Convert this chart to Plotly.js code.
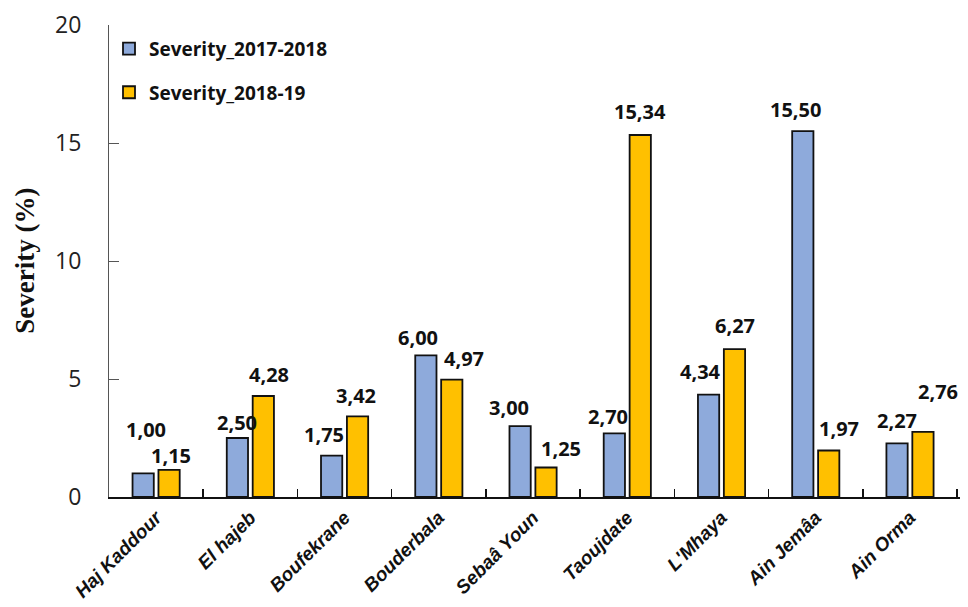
<!DOCTYPE html>
<html>
<head>
<meta charset="utf-8">
<script src="https://cdn.plot.ly/plotly-3.0.1.min.js"></script>
<style>html,body{margin:0;padding:0;background:#fff;}#chart{width:968px;height:607px;}</style>
</head>
<body>
<div id="chart"></div>
<script>
var categories = ["Haj Kaddour", "El hajeb", "Boufekrane", "Bouderbala", "Sebaâ Youn", "Taoujdate", "L'Mhaya", "Ain Jemâa", "Ain Orma"];
var seriesNames = ["Severity_2017-2018", "Severity_2018-19"];
var severity2017 = [1.00, 2.50, 1.75, 6.00, 3.00, 2.70, 4.34, 15.50, 2.27];
var severity2018 = [1.15, 4.28, 3.42, 4.97, 1.25, 15.34, 6.27, 1.97, 2.76];
var yTicks = [0, 5, 10, 15, 20];
var yTitle = 'Severity (%)';

// label placement tuning (pixels), layout only
var blueDx = [3, 0, -8, -8, -11, -6, -8, -7, 0];
var blueDy = [44, 16, 21, 18, 19, 17, 23, 22, 23];
var yellowDx = [2, 6, -2, 12, 15, 0, 0, 10, 15];
var yellowDy = [14, 21, 21, 21, 19, 23, 24, 22, 40];

function fmt(v) { return v.toFixed(2).replace('.', ','); }

var traces = [
  {type: 'bar', name: seriesNames[0], x: categories, y: severity2017, legendgroup: 'a',
   marker: {color: '#8eaadb', line: {color: '#111', width: 1.8}}, hoverinfo: 'none'},
  {type: 'bar', name: seriesNames[1], x: categories, y: severity2018, legendgroup: 'b',
   marker: {color: '#ffc000', line: {color: '#111', width: 1.8}}, hoverinfo: 'none'}
];

var labelFont = {family: 'Open Sans, sans-serif', size: 20, color: '#111', weight: 'bold'};
var annotations = [];
categories.forEach(function (c, i) {
  annotations.push({x: c, y: severity2017[i], xref: 'x', yref: 'y', text: '<b>' + fmt(severity2017[i]) + '</b>',
    showarrow: false, xanchor: 'center', yanchor: 'middle', xshift: -13 + blueDx[i], yshift: blueDy[i], font: labelFont});
  annotations.push({x: c, y: severity2018[i], xref: 'x', yref: 'y', text: '<b>' + fmt(severity2018[i]) + '</b>',
    showarrow: false, xanchor: 'center', yanchor: 'middle', xshift: 13 + yellowDx[i], yshift: yellowDy[i], font: labelFont});
});
// y-axis title (drawn as rotated text so it can sit at the reference's position)
annotations.push({xref: 'paper', yref: 'paper', x: -0.099, y: 0.5, xanchor: 'center', yanchor: 'middle',
  textangle: -90, showarrow: false, text: '<b>' + yTitle + '</b>',
  font: {family: 'Liberation Serif, Times New Roman, serif', size: 27, color: '#111'}});

var layout = {
  width: 968, height: 607,
  margin: {l: 109, r: 8, t: 25, b: 110},
  paper_bgcolor: '#fff', plot_bgcolor: '#fff',
  barmode: 'group', bargap: 0.45, bargroupgap: 0.18,
  showlegend: true,
  legend: {x: 0.0, y: 0.99, xanchor: 'left', yanchor: 'top', bgcolor: 'rgba(0,0,0,0)',
    traceorder: 'grouped', tracegroupgap: 16,
    font: {family: 'Open Sans, sans-serif', size: 19, color: '#111', weight: 'bold'}},
  xaxis: {
    type: 'category', showline: true, linecolor: '#111', linewidth: 2,
    ticks: 'inside', tickson: 'boundaries', ticklen: 8, tickcolor: '#111', tickwidth: 1.5,
    tickangle: -45, showgrid: false, zeroline: false, fixedrange: true,
    tickfont: {family: 'Liberation Sans, Arial, sans-serif', size: 19, color: '#111', weight: 'bold', style: 'italic'}
  },
  yaxis: {
    range: [0, 20], tickvals: yTicks, ticktext: yTicks.map(String),
    showline: true, linecolor: '#555', linewidth: 1,
    ticks: 'inside', ticklen: 10, tickcolor: '#555', tickwidth: 1,
    showgrid: false, zeroline: false, fixedrange: true, ticklabelstandoff: 22,
    tickfont: {family: 'Open Sans, sans-serif', size: 23, color: '#222'}
  },
  annotations: annotations
};

Plotly.newPlot('chart', traces, layout, {displayModeBar: false, staticPlot: true});
</script>
</body>
</html>
